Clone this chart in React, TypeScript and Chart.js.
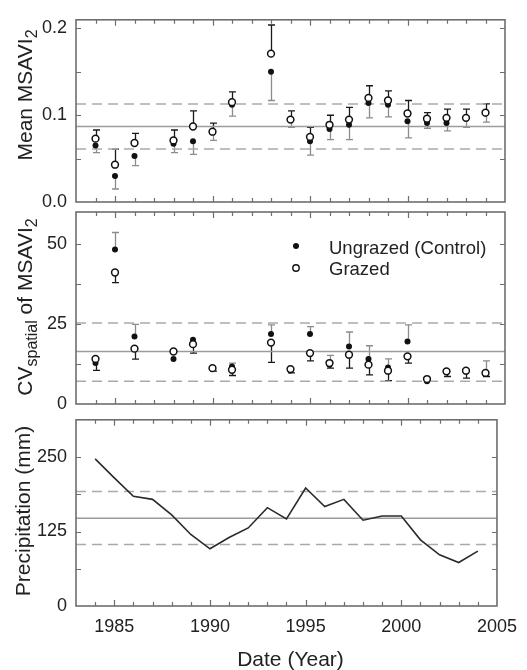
import React, { useEffect, useRef } from "react";
import { Chart, registerables } from "chart.js";

Chart.register(...registerables);

// ---------- data ----------
const years = [1984, 1985, 1986, 1988, 1989, 1990, 1991, 1993, 1994, 1995, 1996, 1997, 1998, 1999, 2000, 2001, 2002, 2003, 2004];

const meanUngrazed = [0.065, 0.030, 0.053, 0.067, 0.070, 0.081, 0.112, 0.150, 0.095, 0.070, 0.084, 0.089, 0.114, 0.112, 0.093, 0.091, 0.091, 0.097, 0.102];
const meanUngrazedErr = [0.057, 0.015, 0.042, 0.057, 0.055, 0.071, 0.099, 0.117, 0.086, 0.054, 0.072, 0.072, 0.097, 0.098, 0.074, 0.085, 0.082, 0.086, 0.092];
const meanGrazed = [0.073, 0.043, 0.068, 0.071, 0.087, 0.081, 0.115, 0.171, 0.095, 0.075, 0.089, 0.095, 0.120, 0.117, 0.102, 0.096, 0.097, 0.097, 0.103];
const meanGrazedErr = [0.083, 0.061, 0.079, 0.083, 0.105, 0.091, 0.127, 0.204, 0.105, 0.086, 0.100, 0.109, 0.134, 0.128, 0.117, 0.103, 0.107, 0.107, 0.113];

const cvUngrazed = [12.8, 48.3, 21.1, 14.1, 20.1, 11.0, 11.7, 21.9, 10.5, 21.9, 12.3, 18.0, 14.1, 11.4, 19.5, 7.1, 10.2, 10.4, 9.4];
const cvUngrazedErr = [null, 53.6, 24.9, null, null, null, 12.8, 24.7, null, 24.2, 15.2, 22.5, 18.2, 14.1, 24.7, null, null, null, 13.5];
const cvGrazed = [14.1, 41.1, 17.3, 16.4, 18.7, 11.2, 10.7, 19.2, 10.9, 15.9, 12.8, 15.4, 12.3, 10.4, 14.9, 7.8, 10.2, 10.4, 9.7];
const cvGrazedErr = [10.5, 37.9, 14.0, null, 15.9, 10.3, 8.9, 13.0, 9.7, 13.5, 11.2, 11.2, 9.1, 7.3, 12.8, 7.2, 8.6, 8.1, 8.6];

const precipYears = [1984, 1985, 1986, 1987, 1988, 1989, 1990, 1991, 1992, 1993, 1994, 1995, 1996, 1997, 1998, 1999, 2000, 2001, 2002, 2003, 2004];
const precip = [247, 215, 184, 179, 153, 120, 96, 115, 131, 165, 146, 198, 167, 179, 144, 151, 151, 111, 86, 73, 92];

// reference lines: [lower dashed, mean solid, upper dashed]
const meanRef = [0.061, 0.087, 0.113];
const cvRef = [7.1, 16.4, 25.3];
const precipRef = [103.1, 147.4, 192.2];

const xRange = [1983, 2005];
const xTickLabels = [1985, 1990, 1995, 2000, 2005];
const meanTickLabels = [0, 0.1, 0.2];
const cvTickLabels = [0, 25, 50];
const precipTickLabels = [0, 125, 250];

const legendLabels = ["Ungrazed (Control)", "Grazed"];

// ---------- styling ----------
const FONT = "'Liberation Sans', Arial, Helvetica, sans-serif";
const TEXT = "#222";
const FRAME = "#6e6e6e";
const REF_SOLID = "#9c9c9c";
const REF_DASH = "#ababab";
const W = 527;

type Part = { t: string; s: number; dy: number };

function drawRotated(ctx: CanvasRenderingContext2D, parts: Part[], cy: number, bx: number) {
  ctx.save();
  let total = 0;
  const widths = parts.map((p) => {
    ctx.font = `${p.s}px ${FONT}`;
    const w = ctx.measureText(p.t).width;
    total += w;
    return w;
  });
  ctx.translate(bx, cy + total / 2);
  ctx.rotate(-Math.PI / 2);
  ctx.fillStyle = TEXT;
  ctx.textBaseline = "alphabetic";
  ctx.textAlign = "left";
  let x = 0;
  parts.forEach((p, i) => {
    ctx.font = `${p.s}px ${FONT}`;
    ctx.fillText(p.t, x, p.dy);
    x += widths[i];
  });
  ctx.restore();
}

function isMultiple(v: number, step: number) {
  const r = v / step;
  return Math.abs(r - Math.round(r)) < 1e-6;
}

type ErrSpec = { xs: number[]; vals: (number | null)[]; ends: (number | null)[]; color: string };

function makePlugin(cfg: {
  step: number;
  title: Part[];
  titleCy: number;
  titleBx: number;
  errors: ErrSpec[];
  legend?: boolean;
  xTitle?: { x: number; y: number };
}) {
  return {
    id: "custom" + Math.random().toString(36).slice(2),
    beforeDatasetsDraw(chart: any) {
      const ctx: CanvasRenderingContext2D = chart.ctx;
      const xs = chart.scales.x;
      const ys = chart.scales.y;
      ctx.save();
      ctx.lineWidth = 1.3;
      cfg.errors.forEach((e) => {
        ctx.strokeStyle = e.color;
        e.vals.forEach((v, i) => {
          const end = e.ends[i];
          if (v == null || end == null) return;
          const px = Math.round(xs.getPixelForValue(e.xs[i])) + 0.5;
          const p1 = ys.getPixelForValue(v);
          const p2 = ys.getPixelForValue(end);
          ctx.beginPath();
          ctx.moveTo(px, p1);
          ctx.lineTo(px, p2);
          ctx.moveTo(px - 3.5, p2);
          ctx.lineTo(px + 3.5, p2);
          ctx.stroke();
        });
      });
      ctx.restore();
    },
    afterDraw(chart: any) {
      const ctx: CanvasRenderingContext2D = chart.ctx;
      const { left, right, top, bottom } = chart.chartArea;
      const xs = chart.scales.x;
      const ys = chart.scales.y;
      ctx.save();
      ctx.strokeStyle = FRAME;
      ctx.lineWidth = 1.2;
      ys.ticks.forEach((t: any) => {
        const v = t.value;
        if (!isMultiple(v, cfg.step) || v <= ys.min || v >= ys.max) return;
        const py = Math.round(ys.getPixelForValue(v)) + 0.5;
        ctx.beginPath();
        ctx.moveTo(left, py);
        ctx.lineTo(left + 5, py);
        ctx.moveTo(right, py);
        ctx.lineTo(right - 5, py);
        ctx.stroke();
      });
      xs.ticks.forEach((t: any) => {
        const v = t.value;
        if (v <= xs.min || v >= xs.max) return;
        const px = Math.round(xs.getPixelForValue(v)) + 0.5;
        const len = xTickLabels.includes(v) ? 6 : 4;
        ctx.beginPath();
        ctx.moveTo(px, bottom);
        ctx.lineTo(px, bottom - len);
        ctx.moveTo(px, top);
        ctx.lineTo(px, top + len);
        ctx.stroke();
      });
      ctx.lineWidth = 1.6;
      ctx.strokeRect(left, top, right - left, bottom - top);
      ctx.restore();

      drawRotated(ctx, cfg.title, cfg.titleCy, cfg.titleBx);

      if (cfg.legend) {
        ctx.save();
        ctx.fillStyle = "#111";
        ctx.beginPath();
        ctx.arc(296, 56, 3, 0, Math.PI * 2);
        ctx.fill();
        ctx.beginPath();
        ctx.strokeStyle = "#111";
        ctx.lineWidth = 1.4;
        ctx.fillStyle = "#fff";
        ctx.arc(296, 78, 3.2, 0, Math.PI * 2);
        ctx.fill();
        ctx.stroke();
        ctx.fillStyle = TEXT;
        ctx.font = `18.5px ${FONT}`;
        ctx.textBaseline = "alphabetic";
        ctx.textAlign = "left";
        ctx.fillText(legendLabels[0], 329, 64);
        ctx.fillText(legendLabels[1], 329, 85);
        ctx.restore();
      }
      if (cfg.xTitle) {
        ctx.save();
        ctx.fillStyle = TEXT;
        ctx.font = `21px ${FONT}`;
        ctx.textAlign = "center";
        ctx.textBaseline = "alphabetic";
        ctx.fillText("Date (Year)", cfg.xTitle.x, cfg.xTitle.y);
        ctx.restore();
      }
    },
  };
}

function refDatasets(ref: number[]) {
  return ref.map((v, i) => ({
    type: "line",
    data: [
      { x: xRange[0], y: v },
      { x: xRange[1], y: v },
    ],
    borderColor: i === 1 ? REF_SOLID : REF_DASH,
    borderWidth: 1.5,
    borderDash: i === 1 ? [] : [10, 6],
    pointRadius: 0,
    fill: false,
  }));
}

function scatterDatasets(ung: number[], grz: number[]) {
  return [
    {
      type: "scatter",
      label: legendLabels[1],
      data: years.map((y, i) => ({ x: y, y: grz[i] })),
      pointRadius: 3.4,
      pointBackgroundColor: "#ffffff",
      pointBorderColor: "#111",
      pointBorderWidth: 1.5,
    },
    {
      type: "scatter",
      label: legendLabels[0],
      data: years.map((y, i) => ({ x: y, y: ung[i] })),
      pointRadius: 3,
      pointBackgroundColor: "#111",
      pointBorderColor: "#111",
      pointBorderWidth: 0,
    },
  ];
}

function baseOptions(o: {
  min: number;
  max: number;
  step: number;
  labels: number[];
  fmt: (v: number) => string;
  padTop: number;
  xHeight: number;
  showX: boolean;
}) {
  return {
    animation: false,
    responsive: false,
    maintainAspectRatio: false,
    events: [],
    layout: { padding: { top: o.padTop, right: 22, left: 0, bottom: 0 } },
    plugins: { legend: { display: false }, tooltip: { enabled: false }, title: { display: false } },
    scales: {
      x: {
        type: "linear",
        min: xRange[0],
        max: xRange[1],
        grid: { display: false, drawTicks: false },
        border: { display: false },
        ticks: {
          display: o.showX,
          stepSize: 1,
          autoSkip: false,
          maxRotation: 0,
          padding: 10,
          color: TEXT,
          font: { family: FONT, size: 18 },
          callback: (v: number) => (xTickLabels.includes(v) ? String(v) : ""),
        },
        afterFit: (s: any) => {
          s.height = o.xHeight;
        },
      },
      y: {
        type: "linear",
        min: o.min,
        max: o.max,
        grid: { display: false, drawTicks: false },
        border: { display: false },
        ticks: {
          stepSize: o.step,
          includeBounds: false,
          autoSkip: false,
          padding: 9,
          color: TEXT,
          font: { family: FONT, size: 18 },
          callback: (v: number) => (o.labels.some((l) => Math.abs(l - v) < 1e-9) ? o.fmt(v) : ""),
        },
        afterFit: (s: any) => {
          s.width = 76;
        },
      },
    },
  };
}

export default function App() {
  const c1 = useRef<HTMLCanvasElement>(null);
  const c2 = useRef<HTMLCanvasElement>(null);
  const c3 = useRef<HTMLCanvasElement>(null);

  useEffect(() => {
    const charts: Chart[] = [];

    charts.push(
      new Chart(c1.current!, {
        type: "scatter",
        data: { datasets: [...scatterDatasets(meanUngrazed, meanGrazed), ...refDatasets(meanRef)] as any },
        options: baseOptions({
          min: 0,
          max: 0.21,
          step: 0.05,
          labels: meanTickLabels,
          fmt: (v) => v.toFixed(1),
          padTop: 12,
          xHeight: 38,
          showX: false,
        }) as any,
        plugins: [
          makePlugin({
            step: 0.05,
            title: [
              { t: "Mean MSAVI", s: 21, dy: 0 },
              { t: "2", s: 16, dy: 5 },
            ],
            titleCy: 95,
            titleBx: 32,
            errors: [
              { xs: years, vals: meanUngrazed, ends: meanUngrazedErr, color: "#8c8c8c" },
              { xs: years, vals: meanGrazed, ends: meanGrazedErr, color: "#1a1a1a" },
            ],
          }),
        ],
      })
    );

    charts.push(
      new Chart(c2.current!, {
        type: "scatter",
        data: { datasets: [...scatterDatasets(cvUngrazed, cvGrazed), ...refDatasets(cvRef)] as any },
        options: baseOptions({
          min: 0,
          max: 60,
          step: 12.5,
          labels: cvTickLabels,
          fmt: (v) => String(v),
          padTop: 22,
          xHeight: 26,
          showX: false,
        }) as any,
        plugins: [
          makePlugin({
            step: 12.5,
            title: [
              { t: "CV", s: 21, dy: 0 },
              { t: "spatial", s: 16, dy: 5 },
              { t: " of MSAVI", s: 21, dy: 0 },
              { t: "2", s: 16, dy: 5 },
            ],
            titleCy: 117,
            titleBx: 32,
            errors: [
              { xs: years, vals: cvUngrazed, ends: cvUngrazedErr, color: "#8c8c8c" },
              { xs: years, vals: cvGrazed, ends: cvGrazedErr, color: "#1a1a1a" },
            ],
            legend: true,
          }),
        ],
      })
    );

    charts.push(
      new Chart(c3.current!, {
        type: "line",
        data: {
          datasets: [
            {
              type: "line",
              label: "Precipitation",
              data: precipYears.map((y, i) => ({ x: y, y: precip[i] })),
              borderColor: "#2b2b2b",
              borderWidth: 1.6,
              pointRadius: 0,
              tension: 0,
              fill: false,
            },
            ...refDatasets(precipRef),
          ] as any,
        },
        options: baseOptions({
          min: 0,
          max: 312.5,
          step: 62.5,
          labels: precipTickLabels,
          fmt: (v) => String(v),
          padTop: 14,
          xHeight: 64,
          showX: true,
        }) as any,
        plugins: [
          makePlugin({
            step: 62.5,
            title: [{ t: "Precipitation (mm)", s: 21, dy: 0 }],
            titleCy: 111,
            titleBx: 30,
            errors: [],
            xTitle: { x: 290.5, y: 266 },
          }),
        ],
      })
    );

    return () => charts.forEach((c) => c.destroy());
  }, []);

  const cs = (top: number, h: number): React.CSSProperties => ({
    position: "absolute",
    left: 0,
    top,
    width: W,
    height: h,
  });

  return (
    <div style={{ position: "absolute", left: 0, top: 0, width: W, height: 670, background: "#fff", overflow: "hidden" }}>
      <canvas ref={c1} width={W} height={240} style={cs(0, 240)} />
      <canvas ref={c2} width={W} height={240} style={cs(190, 240)} />
      <canvas ref={c3} width={W} height={270} style={cs(400, 270)} />
    </div>
  );
}
